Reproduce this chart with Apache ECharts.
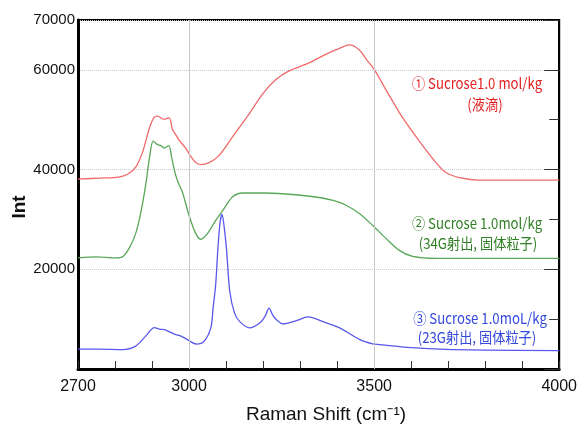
<!DOCTYPE html>
<html>
<head>
<meta charset="utf-8">
<script src="https://cdn.jsdelivr.net/npm/echarts@6/dist/echarts.min.js"></script>
<style>
html, body { margin: 0; padding: 0; background: #fff; }
#chart { width: 580px; height: 427px; }
</style>
</head>
<body>
<div id="chart"></div>
<script>
// ラマンシフト (cm-1) と強度
var redX = [2700, 2760, 2810, 2835, 2856, 2874, 2892, 2905, 2915, 2932, 2946, 2955, 2964, 2973, 2991, 3005, 3018, 3032, 3054, 3081, 3117, 3162, 3198, 3234, 3270, 3324, 3369, 3400, 3434, 3460, 3480, 3501, 3532, 3577, 3622, 3667, 3694, 3730, 3784, 3900, 4000];
var redY = [38100, 38300, 38500, 39100, 40500, 43400, 48100, 50400, 50700, 50100, 50400, 48100, 47000, 45900, 44300, 42600, 41400, 41000, 41400, 42800, 46500, 51100, 55100, 58000, 59800, 61400, 63100, 64100, 65000, 64000, 62000, 60000, 56000, 50400, 45700, 41400, 39400, 38400, 37900, 37900, 37900];

var greenX = [2700, 2750, 2800, 2820, 2838, 2856, 2870, 2883, 2894, 2903, 2915, 2924, 2933, 2945, 2953, 2960, 2969, 2982, 3000, 3018, 3032, 3050, 3072, 3095, 3117, 3144, 3200, 3260, 3320, 3360, 3389, 3425, 3460, 3496, 3532, 3568, 3604, 3667, 3800, 3900, 4000];
var greenY = [22300, 22500, 22300, 22500, 24200, 27200, 31500, 37000, 42800, 45700, 45000, 44800, 44300, 44800, 42500, 40000, 37700, 35500, 30800, 27200, 26000, 27200, 29800, 32200, 34500, 35300, 35300, 35100, 34700, 34300, 33800, 32800, 31200, 28800, 26200, 23800, 22600, 22200, 22200, 22200, 22200];

var blueX = [2700, 2760, 2820, 2856, 2883, 2906, 2920, 2937, 2964, 2975, 2991, 3020, 3041, 3059, 3065, 3072, 3078, 3084, 3089, 3094, 3101, 3110, 3123, 3137, 3164, 3191, 3205, 3216, 3226, 3236, 3254, 3290, 3321, 3371, 3407, 3461, 3496, 3514, 3600, 3694, 3800, 4000];
var blueY = [4000, 4000, 3900, 4600, 6600, 8300, 8000, 7800, 6900, 6700, 6100, 5000, 5600, 8300, 12200, 17000, 24200, 29500, 31000, 29000, 24200, 15600, 11200, 9500, 8250, 9240, 10500, 12200, 10800, 9900, 9040, 9700, 10440, 9240, 8250, 5900, 5050, 4900, 4300, 3930, 3800, 3700];

// 軸ラベル
var xLabels = [2700, 3000, 3500, 4000];
var yLabels = [20000, 40000, 60000, 70000];
var xGrid = [3000, 3500];

var textFont = '15px "Noto Sans CJK JP", sans-serif';

function zip(xs, ys) {
	var out = [];
	for (var i = 0; i < xs.length; i++) {
		out.push([xs[i], ys[i]]);
	}
	return out;
}

function lineSeries(name, xs, ys, color) {
	return {
		name: name,
		type: 'line',
		data: zip(xs, ys),
		showSymbol: false,
		smooth: 0.3,
		lineStyle: { color: color, width: 1.3 },
		z: 3
	};
}

//注釈テキスト
function note(text, x, y, color) {
	return {
		type: 'text', x: x, y: y, scaleX: 0.88,
		style: { text: text, fill: color, font: textFont, textAlign: 'center', textVerticalAlign: 'middle' }
	};
}

var chart = echarts.init(document.getElementById('chart'));
chart.setOption({
	animation: false,
	backgroundColor: '#fff',
	grid: {
		left: 78, right: 20, top: 20, bottom: 58,
		show: true, borderColor: '#000', borderWidth: 2
	},
	xAxis: [{
		type: 'value',
		min: 2700, max: 4000, interval: 100,
		axisLine: { lineStyle: { color: '#000', width: 3 } },
		axisTick: { inside: true, length: 8, lineStyle: { color: '#333', width: 1 } },
		splitLine: { show: false },
		axisLabel: {
			margin: 10,
			color: '#111',
			fontSize: 16,
			fontFamily: 'Liberation Sans',
			showMaxLabel: true,
			formatter: function (v) { return xLabels.indexOf(v) >= 0 ? String(v) : ''; }
		}
	}],
	yAxis: [{
		type: 'value',
		min: 0, max: 70000, interval: 20000,
		position: 'left',
		axisLine: { show: true, lineStyle: { color: '#000', width: 3 } },
		axisTick: { show: false },
		splitLine: { show: true, lineStyle: { color: '#c8c8c8', type: 'dotted', width: 1 } },
		axisLabel: {
			margin: 3,
			color: '#111',
			fontSize: 15,
			fontFamily: 'Liberation Sans',
			showMaxLabel: true,
			formatter: function (v) { return yLabels.indexOf(v) >= 0 ? String(v) : ''; }
		}
	}, {
		type: 'value',
		min: 0, max: 70000, interval: 10000,
		position: 'right',
		axisLine: { show: true, lineStyle: { color: '#000', width: 2 } },
		axisTick: { show: true, inside: true, length: 10, lineStyle: { color: '#333' } },
		splitLine: { show: false },
		axisLabel: { show: false }
	}, {
		type: 'value',
		min: 0, max: 70000, interval: 20000,
		position: 'right',
		axisLine: { show: false },
		axisTick: { show: true, inside: true, length: 15, lineStyle: { color: '#333' } },
		splitLine: { show: false },
		axisLabel: { show: false }
	}],
	series: [{
		name: 'grid',
		type: 'line',
		data: [],
		z: 1,
		markLine: {
			silent: true,
			symbol: 'none',
			label: { show: false },
			lineStyle: { color: '#c8c8c8', type: 'solid', width: 1 },
			data: xGrid.map(function (v) { return { xAxis: v }; })
		}
	},
		lineSeries('red', redX, redY, '#f06a6a'),
		lineSeries('green', greenX, greenY, '#58a858'),
		lineSeries('blue', blueX, blueY, '#5858ea')
	],
	graphic: [
		note('① Sucrose1.0 mol/kg', 477, 83, '#e41e1e'),
		note('(液滴)', 485, 104, '#e41e1e'),
		note('② Sucrose 1.0mol/kg', 477, 223, '#2f7f24'),
		note('(34G射出, 固体粒子)', 478, 243, '#2f7f24'),
		note('③ Sucrose 1.0moL/kg', 480, 318, '#3348dc'),
		note('(23G射出, 固体粒子)', 477, 337, '#3348dc'),
		{ type: 'text', x: 326, y: 415, style: { text: 'Raman Shift (cm⁻¹)', fill: '#111', font: '19px "Liberation Sans", sans-serif', textAlign: 'center', textVerticalAlign: 'middle' } },
		{ type: 'text', x: 20, y: 207, rotation: Math.PI / 2, style: { text: 'Int', fill: '#111', font: 'bold 19px "Liberation Sans", sans-serif', textAlign: 'center', textVerticalAlign: 'middle' } }
	]
});
</script>
</body>
</html>
